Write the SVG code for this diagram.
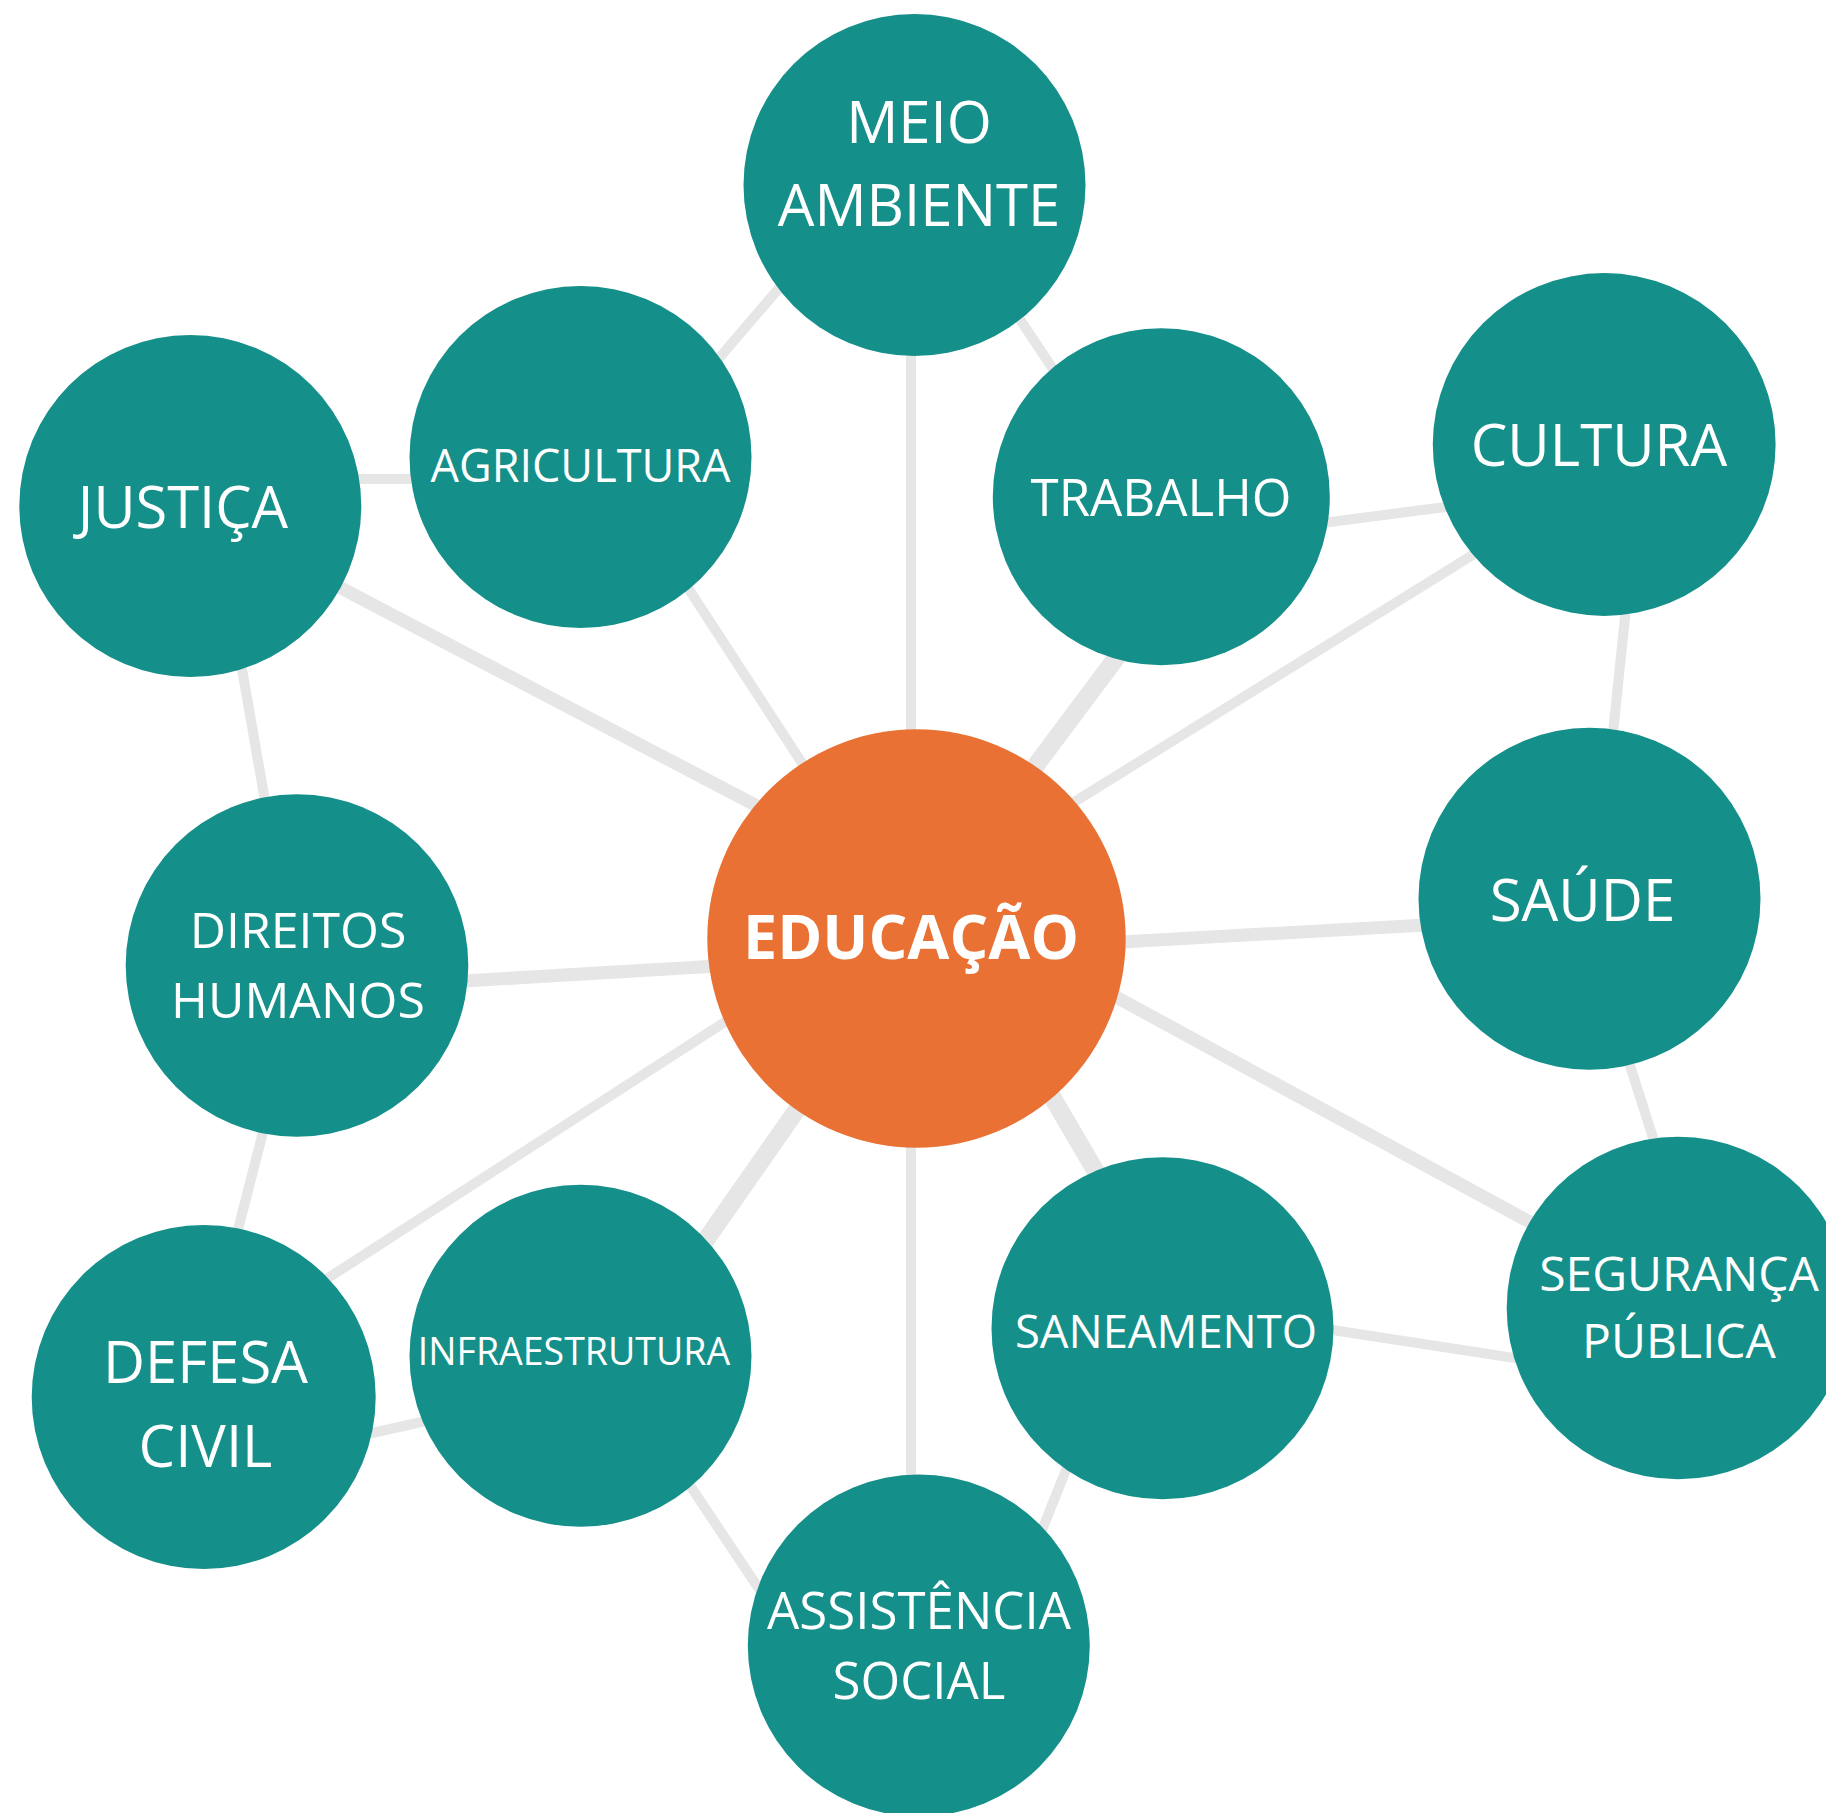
<svg xmlns="http://www.w3.org/2000/svg" width="1826" height="1813" viewBox="0 0 1826 1813">
<style>
.c{stroke:#e6e6e6;stroke-linecap:butt;fill:none}
.thin{stroke-width:10}
.med{stroke-width:13}
.thick{stroke-width:18}
.n{fill:#148f89}
.hub{fill:#e87133}
text{font-family:"Open Sans","Noto Sans","Liberation Sans",sans-serif;fill:#ffffff;text-anchor:middle}
.b{font-weight:700}
</style>
<rect width="1826" height="1813" fill="#ffffff"/>
<g id="connectors">
<line class="c thin" x1="800" y1="263.7" x2="690" y2="392"/>
<line class="c thin" x1="911" y1="300" x2="911" y2="760"/>
<line class="c thin" x1="995" y1="282" x2="1075" y2="402"/>
<line class="c thin" x1="340" y1="479" x2="430" y2="479"/>
<line class="c med" x1="300" y1="566.5" x2="800" y2="828.5"/>
<line class="c thin" x1="660" y1="545" x2="830" y2="806"/>
<line class="c thick" x1="1140" y1="626" x2="1010" y2="800"/>
<line class="c thin" x1="1260" y1="531" x2="1500" y2="500"/>
<line class="c thin" x1="1500" y1="538" x2="1050" y2="817"/>
<line class="c thin" x1="1632" y1="550" x2="1605" y2="810"/>
<line class="c med" x1="1050" y1="946" x2="1480" y2="922"/>
<line class="c thin" x1="230" y1="600" x2="277" y2="870"/>
<line class="c med" x1="380" y1="986" x2="800" y2="961"/>
<line class="c thin" x1="284" y1="1050" x2="222.5" y2="1290"/>
<line class="c thin" x1="280" y1="1309" x2="800" y2="973.5"/>
<line class="c thick" x1="830" y1="1062.4" x2="680" y2="1276.9"/>
<line class="c thin" x1="300" y1="1449" x2="480" y2="1409"/>
<line class="c thin" x1="911" y1="1100" x2="911" y2="1520"/>
<line class="c thick" x1="1030" y1="1059" x2="1130" y2="1230"/>
<line class="c med" x1="1080" y1="977.4" x2="1580" y2="1249.4"/>
<line class="c thin" x1="1606" y1="990" x2="1676" y2="1210"/>
<line class="c thin" x1="1280" y1="1322" x2="1560" y2="1365"/>
<line class="c thin" x1="1086" y1="1420" x2="1022" y2="1580"/>
<line class="c thin" x1="660" y1="1440.5" x2="790" y2="1635.5"/>
</g>
<g id="meio-ambiente"><circle class="n" cx="914.5" cy="185" r="171"/><text x="919" y="143" font-size="58">MEIO</text><text x="919" y="226" font-size="58">AMBIENTE</text></g>
<g id="agricultura"><circle class="n" cx="580.5" cy="457" r="171"/><text x="580.5" y="481.7" font-size="45">AGRICULTURA</text></g>
<g id="justica"><circle class="n" cx="190.3" cy="506" r="171"/><text x="183" y="528.3" font-size="57.8">JUSTIÇA</text></g>
<g id="trabalho"><circle class="n" cx="1161.3" cy="496.7" r="168.5"/><text x="1161" y="515.7" font-size="51">TRABALHO</text></g>
<g id="cultura"><circle class="n" cx="1604.2" cy="444.5" r="171.4"/><text x="1599" y="465.7" font-size="58.2">CULTURA</text></g>
<g id="educacao"><circle class="hub" cx="916.5" cy="938.5" r="209.2"/><text class="b" x="911" y="958.7" font-size="61">EDUCAÇÃO</text></g>
<g id="saude"><circle class="n" cx="1589.5" cy="898.7" r="171"/><text x="1582.5" y="920.7" font-size="58.2">SAÚDE</text></g>
<g id="direitos-humanos"><circle class="n" cx="297" cy="965.5" r="171.3"/><text x="298" y="948.3" font-size="50">DIREITOS</text><text x="298" y="1018.3" font-size="50">HUMANOS</text></g>
<g id="defesa-civil"><circle class="n" cx="203.7" cy="1397" r="172"/><text x="205.5" y="1383.3" font-size="58">DEFESA</text><text x="205.5" y="1466.7" font-size="58">CIVIL</text></g>
<g id="infraestrutura"><circle class="n" cx="580.5" cy="1355.8" r="171"/><text x="574" y="1365" font-size="37.5">INFRAESTRUTURA</text></g>
<g id="saneamento"><circle class="n" cx="1162.5" cy="1328.2" r="171"/><text x="1166" y="1348.3" font-size="45.4">SANEAMENTO</text></g>
<g id="seguranca-publica"><circle class="n" cx="1678" cy="1308" r="171.3"/><text x="1679" y="1291" font-size="48">SEGURANÇA</text><text x="1679" y="1357.7" font-size="48">PÚBLICA</text></g>
<g id="assistencia-social"><circle class="n" cx="918.8" cy="1645.5" r="171"/><text x="919" y="1629" font-size="51">ASSISTÊNCIA</text><text x="919" y="1699" font-size="51">SOCIAL</text></g>
</svg>
